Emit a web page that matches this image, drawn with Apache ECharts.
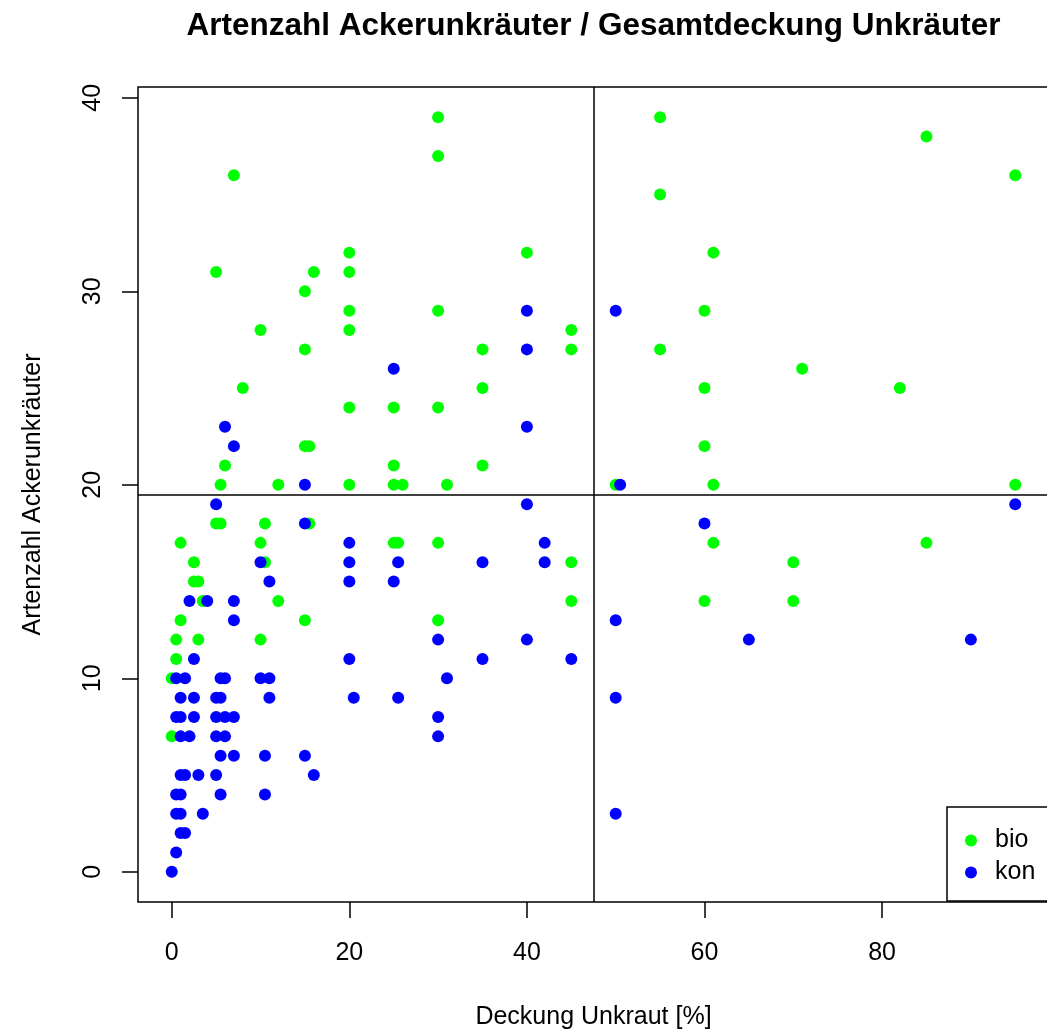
<!DOCTYPE html>
<html>
<head>
<meta charset="utf-8">
<script src="https://cdn.jsdelivr.net/npm/echarts@6/dist/echarts.min.js"></script>
<style>
html,body{margin:0;padding:0;background:#fff;}
#chart{width:1047px;height:1029px;}
</style>
</head>
<body>
<div id="chart"></div>
<script>
// ---- texts ----
const titleText = 'Artenzahl Ackerunkräuter / Gesamtdeckung Unkräuter';
const xAxisName = 'Deckung Unkraut [%]';
const yAxisName = 'Artenzahl Ackerunkräuter';
const seriesNames = ['bio', 'kon'];

// ---- tick labels ----
const xTicks = [0, 20, 40, 60, 80];
const yTicks = [0, 10, 20, 30, 40];

// ---- axis ranges (R default 4% extension) ----
const xRange = [-3.8, 98.8];
const yRange = [-1.56, 40.56];

// ---- reference lines ----
const xCut = 47.5;
const yCut = 19.5;

// ---- data: [Deckung %, Artenzahl] ----
const bioPoints = [
  [30,39],[30,37],[7,36],[55,39],[85,38],[95,36],[55,35],
  [5,31],[20,32],[20,31],[16,31],[40,32],[61,32],
  [15,30],[10,28],[20,29],[30,29],[60,29],[20,28],[45,28],
  [15,27],[35,27],[45,27],[55,27],[71,26],
  [8,25],[35,25],[60,25],[82,25],
  [20,24],[25,24],[30,24],
  [15,22],[15.5,22],[60,22],
  [6,21],[25,21],[35,21],
  [5.5,20],[12,20],[20,20],[25,20],[26,20],[31,20],[50,20],[61,20],[95,20],
  [5,18],[5.5,18],[10.5,18],[15.5,18],
  [1,17],[10,17],[25,17],[25.5,17],[30,17],[61,17],[85,17],
  [2.5,16],[10.5,16],[45,16],[70,16],
  [2.5,15],[3,15],
  [3.5,14],[12,14],[45,14],[60,14],[70,14],
  [1,13],[15,13],[30,13],
  [0.5,12],[3,12],[10,12],
  [0.5,11],
  [0,10],
  [0,7]
];

const konPoints = [
  [50,29],[40,29],[40,27],[25,26],[6,23],[40,23],[7,22],
  [15,20],[50.5,20],
  [5,19],[40,19],[95,19],
  [15,18],[60,18],
  [20,17],[42,17],
  [10,16],[20,16],[25.5,16],[35,16],[42,16],
  [11,15],[20,15],[25,15],
  [2,14],[4,14],[7,14],
  [7,13],[50,13],
  [30,12],[40,12],[65,12],[90,12],
  [2.5,11],[20,11],[35,11],[45,11],
  [0.5,10],[1.5,10],[5.5,10],[6,10],[10,10],[11,10],[31,10],
  [1,9],[2.5,9],[5,9],[5.5,9],[11,9],[20.5,9],[25.5,9],[50,9],
  [0.5,8],[1,8],[2.5,8],[5,8],[6,8],[7,8],[30,8],
  [1,7],[2,7],[5,7],[6,7],[30,7],
  [5.5,6],[7,6],[10.5,6],[15,6],
  [1,5],[1.5,5],[3,5],[5,5],[16,5],
  [0.5,4],[1,4],[5.5,4],[10.5,4],
  [0.5,3],[1,3],[3.5,3],[50,3],
  [1,2],[1.5,2],
  [0.5,1],
  [0,0]
];

const seriesColors = ['#00ff00', '#0000ff'];
const FONT = '"Liberation Sans", Arial, Helvetica, sans-serif';

const chart = echarts.init(document.getElementById('chart'), null, {renderer: 'canvas'});

const tickStyle = {show: true, length: 16, inside: false, lineStyle: {color: '#000', width: 1.5}};

const option = {
  animation: false,
  backgroundColor: '#fff',
  title: {
    text: titleText,
    left: 593.5,
    top: 10,
    textAlign: 'center',
    padding: 0,
    textStyle: {fontSize: 31.5, fontWeight: 'bold', color: '#000', fontFamily: FONT}
  },
  grid: {
    left: 138, top: 87, width: 911, height: 815,
    outerBoundsMode: 'none',
    containLabel: false,
    show: true, borderColor: '#000', borderWidth: 1.5, backgroundColor: 'transparent'
  },
  xAxis: {
    type: 'value',
    min: xRange[0], max: xRange[1],
    splitLine: {show: false},
    axisLine: {show: false, onZero: false},
    axisTick: Object.assign({}, tickStyle, {customValues: xTicks}),
    axisLabel: {customValues: xTicks, margin: 39, fontSize: 25, color: '#000', fontFamily: FONT},
    name: xAxisName, nameLocation: 'middle', nameGap: 103,
    nameTextStyle: {fontSize: 25, color: '#000', fontFamily: FONT}
  },
  yAxis: {
    type: 'value',
    min: yRange[0], max: yRange[1],
    splitLine: {show: false},
    axisLine: {show: false, onZero: false},
    axisTick: Object.assign({}, tickStyle, {customValues: yTicks}),
    axisLabel: {customValues: yTicks, rotate: 90, margin: 32, fontSize: 25, color: '#000', fontFamily: FONT},
    name: yAxisName, nameLocation: 'middle', nameGap: 92, nameRotate: 90,
    nameTextStyle: {fontSize: 25, color: '#000', fontFamily: FONT}
  },
  legend: {
    orient: 'vertical',
    left: 947, top: 807,
    padding: [21, 14, 16, 18],
    itemGap: 7,
    itemWidth: 12, itemHeight: 12,
    icon: 'circle',
    backgroundColor: '#fff',
    borderColor: '#000', borderWidth: 1.5,
    selectedMode: false,
    textStyle: {fontSize: 25, lineHeight: 25, color: '#000', fontFamily: FONT, padding: [0, 0, 0, 13]},
    data: seriesNames
  },
  series: [
    {
      name: seriesNames[0], type: 'scatter', data: bioPoints,
      symbol: 'circle', symbolSize: 12,
      itemStyle: {color: seriesColors[0], opacity: 1},
      emphasis: {disabled: true},
      markLine: {
        silent: true, symbol: ['none', 'none'], label: {show: false},
        lineStyle: {color: '#000', width: 1.5, type: 'solid'},
        emphasis: {disabled: true},
        data: [{xAxis: xCut}, {yAxis: yCut}]
      }
    },
    {
      name: seriesNames[1], type: 'scatter', data: konPoints,
      symbol: 'circle', symbolSize: 12,
      itemStyle: {color: seriesColors[1], opacity: 1},
      emphasis: {disabled: true}
    }
  ]
};
chart.setOption(option);
</script>
</body>
</html>
